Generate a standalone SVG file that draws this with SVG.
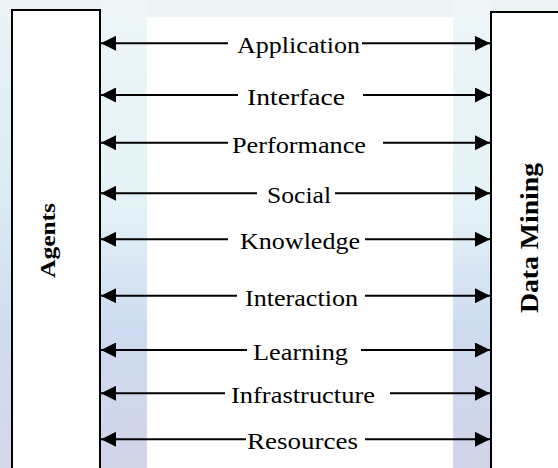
<svg xmlns="http://www.w3.org/2000/svg" width="558" height="468" viewBox="0 0 558 468">
  <defs>
    <linearGradient id="sky" x1="0" y1="0" x2="0" y2="1">
      <stop offset="0" stop-color="#e6f3f6"/>
      <stop offset="0.4" stop-color="#dcecf4"/>
      <stop offset="0.7" stop-color="#cfdcf0"/>
      <stop offset="1" stop-color="#d5d7ea"/>
    </linearGradient>
    <linearGradient id="band" x1="0" y1="0" x2="0" y2="1">
      <stop offset="0" stop-color="#eef6f8"/>
      <stop offset="0.45" stop-color="#e2f2f6"/>
      <stop offset="0.7" stop-color="#cddbf0"/>
      <stop offset="1" stop-color="#d2d4e8"/>
    </linearGradient>
    <marker id="head" viewBox="0 0 15 15" refX="15" refY="7.5" markerWidth="15" markerHeight="15" markerUnits="userSpaceOnUse" orient="auto">
      <path d="M0,0 L15,7.5 L0,15 Z" fill="#000"/>
    </marker>
    <style>
      .box { fill: #fff; stroke: #000; stroke-width: 2; }
      .title { font-weight: bold; fill: #000; }
      .label { font-size: 23px; fill: #000; }
      .link { stroke: #000; stroke-width: 2; fill: none; marker-end: url(#head); }
    </style>
  </defs>

  <!-- backdrop -->
  <rect x="0" y="0" width="558" height="468" fill="url(#sky)"/>
  <rect x="100" y="0" width="47" height="468" fill="url(#band)"/>
  <rect x="453" y="0" width="40" height="468" fill="url(#band)"/>
  <rect x="0" y="0" width="558" height="17" fill="#f2f5f7" opacity="0.6"/>
  <rect x="147" y="17" width="306" height="451" fill="#ffffff"/>

  <g font-family="Liberation Serif, Times New Roman, serif">
    <!-- nodes -->
    <g id="agents">
      <rect class="box" x="12" y="10" width="88" height="470"/>
      <text class="title" font-size="20" transform="translate(55,240.5) rotate(-90)" text-anchor="middle" textLength="75" lengthAdjust="spacingAndGlyphs">Agents</text>
    </g>
    <g id="data-mining">
      <rect class="box" x="491" y="12" width="80" height="470"/>
      <text class="title" font-size="25" transform="translate(538,238) rotate(-90)" text-anchor="middle" textLength="150" lengthAdjust="spacingAndGlyphs">Data Mining</text>
    </g>

    <!-- connectors: each relation is a double-headed arrow split by its label -->
    <g id="connectors">
      <g id="application">
        <line class="link" x1="228" y1="43.3" x2="101" y2="43.3"/>
        <line class="link" x1="362" y1="43.3" x2="490" y2="43.3"/>
        <text class="label" x="237" y="53" textLength="123" lengthAdjust="spacingAndGlyphs">Application</text>
      </g>
      <g id="interface">
        <line class="link" x1="238" y1="95" x2="101" y2="95"/>
        <line class="link" x1="363" y1="95" x2="490" y2="95"/>
        <text class="label" x="247" y="104.5" textLength="98" lengthAdjust="spacingAndGlyphs">Interface</text>
      </g>
      <g id="performance">
        <line class="link" x1="228" y1="142.7" x2="101" y2="142.7"/>
        <line class="link" x1="383" y1="142.7" x2="490" y2="142.7"/>
        <text class="label" x="232" y="152.5" textLength="134" lengthAdjust="spacingAndGlyphs">Performance</text>
      </g>
      <g id="social">
        <line class="link" x1="257" y1="193.3" x2="101" y2="193.3"/>
        <line class="link" x1="335" y1="193.3" x2="490" y2="193.3"/>
        <text class="label" x="267" y="203" textLength="64" lengthAdjust="spacingAndGlyphs">Social</text>
      </g>
      <g id="knowledge">
        <line class="link" x1="228" y1="239.3" x2="101" y2="239.3"/>
        <line class="link" x1="365" y1="239.3" x2="490" y2="239.3"/>
        <text class="label" x="240" y="249" textLength="120" lengthAdjust="spacingAndGlyphs">Knowledge</text>
      </g>
      <g id="interaction">
        <line class="link" x1="237" y1="295.7" x2="101" y2="295.7"/>
        <line class="link" x1="365" y1="295.7" x2="490" y2="295.7"/>
        <text class="label" x="245" y="305.5" textLength="113" lengthAdjust="spacingAndGlyphs">Interaction</text>
      </g>
      <g id="learning">
        <line class="link" x1="247" y1="350" x2="101" y2="350"/>
        <line class="link" x1="361" y1="350" x2="490" y2="350"/>
        <text class="label" x="253" y="359.5" textLength="95" lengthAdjust="spacingAndGlyphs">Learning</text>
      </g>
      <g id="infrastructure">
        <line class="link" x1="225" y1="393.3" x2="101" y2="393.3"/>
        <line class="link" x1="390" y1="393.3" x2="490" y2="393.3"/>
        <text class="label" x="231" y="403" textLength="144" lengthAdjust="spacingAndGlyphs">Infrastructure</text>
      </g>
      <g id="resources">
        <line class="link" x1="246" y1="439.3" x2="101" y2="439.3"/>
        <line class="link" x1="365" y1="439.3" x2="490" y2="439.3"/>
        <text class="label" x="247" y="449" textLength="111" lengthAdjust="spacingAndGlyphs">Resources</text>
      </g>
    </g>
  </g>
</svg>
